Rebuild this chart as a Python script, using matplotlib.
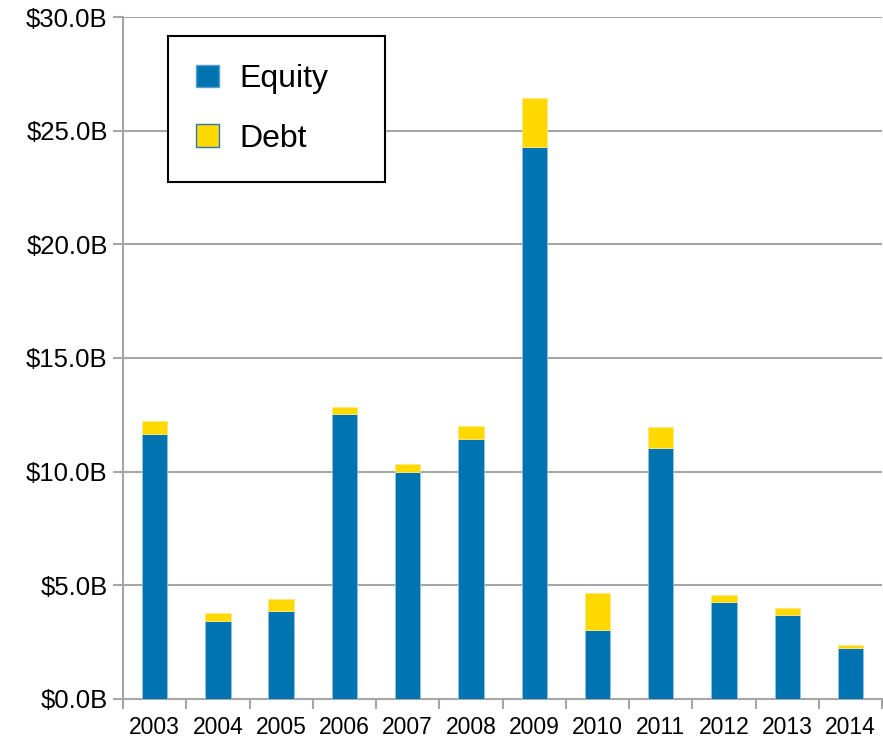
import numpy as np
import matplotlib.pyplot as plt
from matplotlib.patches import Patch

years = ['2003', '2004', '2005', '2006', '2007', '2008', '2009', '2010', '2011', '2012', '2013', '2014']
equity = [11.65, 3.45, 3.89, 12.55, 9.99, 11.44, 24.27, 3.04, 11.04, 4.27, 3.70, 2.23]
debt = [0.57, 0.32, 0.50, 0.30, 0.35, 0.58, 2.16, 1.61, 0.93, 0.31, 0.30, 0.15]

blue = '#0074B0'
yellow = '#FFD900'
grey = '#A6A6A6'

plt.rcParams['font.family'] = ['Liberation Sans', 'DejaVu Sans']

fig = plt.figure(figsize=(8.83, 7.47), dpi=100)
ax = fig.add_axes([0.1393, 0.0643, 0.8597, 0.9129])

x = np.arange(len(years))
ax.bar(x, equity, width=0.4, color=blue, edgecolor='#8CC3E0', linewidth=0.6, zorder=3)
ax.bar(x, debt, width=0.4, bottom=equity, color=yellow, edgecolor='#FFE680', linewidth=0.6, zorder=3)

ax.set_xlim(-0.5, len(years) - 0.5)
ax.set_ylim(0, 30)
ax.set_yticks(np.arange(0, 31, 5))
ax.set_yticklabels(['${:.1f}B'.format(v) for v in np.arange(0, 31, 5)])
ax.yaxis.grid(True, color=grey, linewidth=1.5, zorder=0)

ax.set_xticks(x)
ax.set_xticklabels(years)
ax.set_xticks(np.arange(-0.5, len(years), 1), minor=True)
ax.tick_params(axis='x', which='major', length=0, pad=12, labelsize=16.5)
ax.tick_params(axis='x', which='minor', length=7, width=1.5, color=grey, direction='out')
ax.tick_params(axis='y', length=7, width=1.5, color=grey, labelsize=18.5, pad=4)

for s in ['top', 'right']:
    ax.spines[s].set_visible(False)
for s in ['left', 'bottom']:
    ax.spines[s].set_color(grey)
    ax.spines[s].set_linewidth(1.5)

handles = [Patch(facecolor=blue, edgecolor='#5A9FCC'), Patch(facecolor=yellow, edgecolor='#2E75B6')]
x0, x1 = 168 / 883, 385 / 883
y_top = 1 - 36 / 747
leg = ax.legend(handles, ['Equity', 'Debt'], loc='upper left', mode='expand',
                bbox_to_anchor=(x0, y_top - 0.2, x1 - x0, 0.2), bbox_transform=fig.transFigure,
                borderaxespad=0, fontsize=23, fancybox=False, framealpha=1,
                handlelength=0.72, handleheight=0.72, handletextpad=0.62,
                labelspacing=0.93, borderpad=0.88)
leg.get_frame().set_edgecolor('black')
leg.get_frame().set_linewidth(1.5)
leg.set_zorder(5)

fig.savefig('out.png', dpi=100)
